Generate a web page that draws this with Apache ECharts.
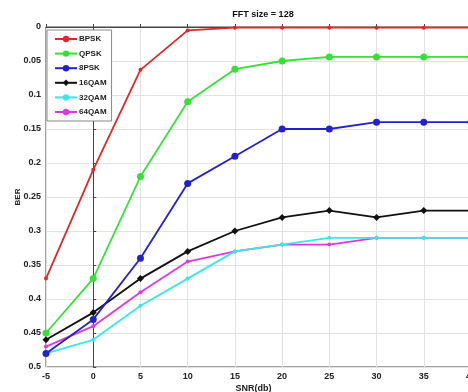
<!DOCTYPE html>
<html>
<head>
<meta charset="utf-8">
<script src="https://cdn.jsdelivr.net/npm/echarts@6/dist/echarts.min.js"></script>
<style>
  html, body { margin: 0; padding: 0; background: #fff; }
  #chart { width: 468px; height: 392px; }
</style>
</head>
<body>
<div id="chart"></div>
<script>
// SNR sweep (dB) and bit error rate for each modulation scheme
const snr = [-5, 0, 5, 10, 15, 20, 25, 30, 35, 40];
const bpsk  = [0.37, 0.21, 0.063, 0.005, 0.001, 0.001, 0.001, 0.001, 0.001, 0.001];
const qpsk  = [0.45, 0.37, 0.22, 0.11, 0.062, 0.05, 0.044, 0.044, 0.044, 0.044];
const psk8  = [0.48, 0.43, 0.34, 0.23, 0.19, 0.15, 0.15, 0.14, 0.14, 0.14];
const qam16 = [0.46, 0.42, 0.37, 0.33, 0.30, 0.28, 0.27, 0.28, 0.27, 0.27];
const qam32 = [0.48, 0.46, 0.41, 0.37, 0.33, 0.32, 0.31, 0.31, 0.31, 0.31];
const qam64 = [0.47, 0.44, 0.39, 0.345, 0.33, 0.32, 0.32, 0.31, 0.31, 0.31];
const yTicks = [0, 0.05, 0.1, 0.15, 0.2, 0.25, 0.3, 0.35, 0.4, 0.45, 0.5];

const names = ['BPSK', 'QPSK', '8PSK', '16QAM', '32QAM', '64QAM'];
const values = [bpsk, qpsk, psk8, qam16, qam32, qam64];
const colors = ['#e02828', '#36e036', '#2222cc', '#111111', '#3ae6e6', '#e038e0'];
const marks = ['circle', 'circle', 'circle', 'diamond', 'circle', 'circle'];
const markSizes = [4, 7, 7, 7, 4, 4];

const font = { fontFamily: 'Liberation Sans, Arial, sans-serif', fontWeight: 'bold', fontSize: 9, color: '#222' };

const chart = echarts.init(document.getElementById('chart'), null, { renderer: 'canvas' });
chart.setOption({
  animation: false,
  backgroundColor: '#fff',
  title: {
    text: 'FFT size = 128',
    left: 258, top: 5, textAlign: 'center',
    textStyle: Object.assign({}, font, { fontSize: 9, color: '#111' })
  },
  grid: {
    left: 46, top: 27, right: -3, bottom: 25,
    outerBoundsMode: 'none', containLabel: false,
    show: true, borderColor: '#444', borderWidth: 1
  },
  legend: {
    orient: 'vertical', left: 47, top: 30,
    data: names,
    itemWidth: 22, itemHeight: 8, itemGap: 6.6,
    padding: [5, 5, 5, 7],
    borderColor: '#888', borderWidth: 1, backgroundColor: '#fff',
    textStyle: Object.assign({}, font, { fontSize: 8, padding: [0, 0, 0, -3] })
  },
  xAxis: {
    type: 'value', min: -5, max: 40, interval: 5,
    name: 'SNR(db)', nameLocation: 'middle', nameGap: 17,
    nameMoveOverlap: false,
    nameTextStyle: Object.assign({}, font, { padding: [0, 0, 0, -10] }),
    axisLine: { show: true, lineStyle: { color: '#444' } },
    axisTick: { show: true, inside: true, length: 3, lineStyle: { color: '#444' } },
    axisLabel: Object.assign({}, font, { margin: 5, showMaxLabel: true }),
    splitLine: { show: true, lineStyle: { color: '#e2e2e2', width: 1 } }
  },
  yAxis: {
    type: 'value', min: 0, max: 0.5, interval: 0.05, inverse: true,
    name: 'BER', nameLocation: 'middle', nameGap: 24, nameRotate: 90,
    nameMoveOverlap: false,
    nameTextStyle: Object.assign({}, font, { fontSize: 8 }),
    axisLine: { show: true, lineStyle: { color: '#444' } },
    axisTick: { show: true, inside: true, length: 3, lineStyle: { color: '#444' } },
    axisLabel: Object.assign({}, font, {
      margin: 5,
      formatter: v => {
        const t = yTicks.find(k => Math.abs(k - v) < 1e-9);
        return String(t !== undefined ? t : +v.toFixed(2));
      }
    }),
    splitLine: { show: true, lineStyle: { color: '#e2e2e2', width: 1 } }
  },
  series: names.map((n, i) => ({
    name: n,
    type: 'line',
    data: snr.map((x, j) => [x, values[i][j]]),
    color: colors[i],
    symbol: marks[i],
    symbolSize: markSizes[i],
    showAllSymbol: true,
    lineStyle: { width: 1.8, color: colors[i] },
    itemStyle: { color: colors[i] },
    z: 10 - i
  }))
});
</script>
</body>
</html>
